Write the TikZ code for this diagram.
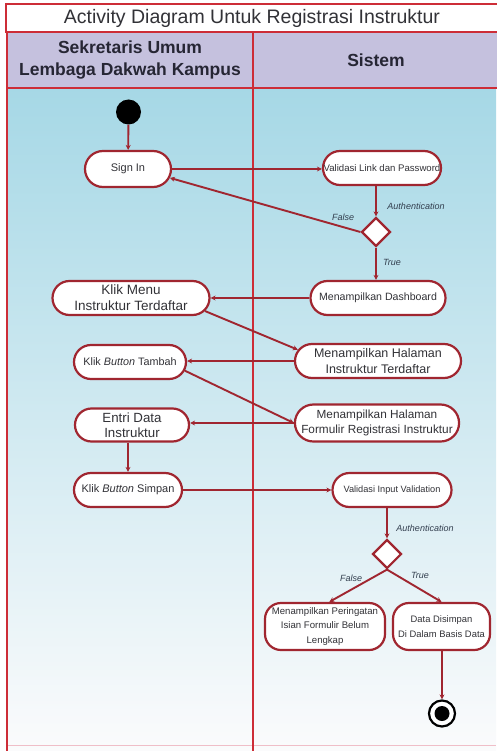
\documentclass[tikz,border=0pt]{standalone}
\usepackage{fontspec}
\setmainfont{Liberation Sans}
\usetikzlibrary{shapes.geometric,shapes.misc,arrows.meta}

\definecolor{lane}{RGB}{205,45,55}
\definecolor{flow}{RGB}{160,38,48}
\definecolor{headfill}{RGB}{197,193,222}
\definecolor{skytop}{RGB}{166,216,230}
\definecolor{skymid}{RGB}{196,228,237}
\definecolor{skybot}{RGB}{251,251,252}
\definecolor{ink}{RGB}{50,50,55}
\definecolor{headink}{RGB}{38,38,52}
\definecolor{guardink}{RGB}{50,62,78}
\definecolor{edgepink}{RGB}{240,190,200}

\tikzset{
  sz/.style 2 args={font=\fontsize{#1}{#2}\selectfont},
  act/.style 2 args={rounded rectangle, draw=flow, line width=2.2pt, fill=white,
    text=ink, align=center, inner sep=1pt, minimum width=#1, minimum height=#2},
  tallact/.style 2 args={rectangle, rounded corners=16pt, draw=flow, line width=2.2pt, fill=white,
    text=ink, align=center, inner sep=1pt, minimum width=#1, minimum height=#2},
  decision/.style={diamond, aspect=1, draw=flow, line width=2.2pt, fill=white,
    minimum size=29pt, inner sep=0pt},
  flowarrow/.style={draw=flow, line width=1.9pt, -{Stealth[length=5pt,width=5pt]}},
  guard/.style={text=guardink, font=\fontsize{9}{11}\selectfont\itshape, inner sep=0pt},
  laneline/.style={draw=lane, line width=1.7pt},
  headcell/.style={draw=lane, line width=1.6pt, fill=headfill, text=headink,
    align=center, inner sep=0pt, font=\fontsize{17.5}{22}\selectfont\bfseries},
}

\begin{document}
\begin{tikzpicture}[x=1pt,y=-1pt]
\useasboundingbox (0,0) rectangle (496,751);

% swimlane background and borders
\shade[top color=skytop, middle color=skymid, bottom color=skybot] (7,88) rectangle (496,751);
\draw[edgepink, line width=0.8pt] (7,745) -- (496,745);
\draw[laneline] (7,88) -- (7,751);
\draw[laneline] (253,88) -- (253,751);

% title bar and lane headers
\node (title) [draw=lane, line width=1.4pt, fill=white, minimum width=492pt, minimum height=28pt,
  inner sep=0pt, text=ink, font=\fontsize{19.5}{22}\selectfont] at (252,18)
  {Activity Diagram Untuk Registrasi Instruktur};
\node (actor) [headcell, minimum width=246pt, minimum height=56pt] at (130,60)
  {Sekretaris Umum\\Lembaga Dakwah Kampus};
\node (system) [headcell, minimum width=246pt, minimum height=56pt] at (376,60) {Sistem};

% start and end
\node (start) [circle, fill=black, minimum size=25pt, inner sep=0pt] at (128.5,112) {};
\node (end) [circle, draw=black, line width=2.2pt, fill=white, minimum size=26pt, inner sep=0pt] at (442,713.5) {};
\node (endcore) [circle, fill=black, minimum size=15pt, inner sep=0pt] at (end.center) {};

% actions: Sekretaris Umum
\node (signin)  [act={88pt}{36pt}, sz={11}{13}] at (128,169) {Sign In};
\node (kmenu)   [act={159pt}{34pt}, sz={13.5}{16}] at (131,298) {Klik Menu\\Instruktur Terdaftar};
\node (ktambah) [act={114pt}{34pt}, sz={10.8}{13}] at (130,362) {Klik \textit{Button} Tambah};
\node (entri)   [act={116pt}{33pt}, sz={13.3}{15.5}] at (132,425) {Entri Data\\Instruktur};
\node (simpan)  [act={110pt}{34pt}, sz={11}{13}] at (128,490) {Klik \textit{Button} Simpan};

% actions: Sistem
\node (vlp)    [act={120pt}{34pt}, sz={9.6}{12}] at (382,168) {Validasi Link dan Password};
\node (d1)     [decision] at (376,232) {};
\node (dash)   [act={137pt}{34pt}, sz={10.6}{13}] at (378,298) {Menampilkan Dashboard};
\node (hins)   [act={168pt}{34pt}, sz={12.5}{16}] at (378,361) {Menampilkan Halaman\\Instruktur Terdaftar};
\node (form)   [act={162pt}{37pt}, sz={11.8}{15}] at (377,423) {Menampilkan Halaman\\Formulir Registrasi Instruktur};
\node (vinput) [act={121pt}{34pt}, sz={9.2}{11}] at (392,490) {Validasi Input Validation};
\node (d2)     [decision] at (387,554) {};
\node (warn)   [tallact={120pt}{47pt}, sz={9.6}{14.5}] at (325,626.5) {Menampilkan Peringatan\\Isian Formulir Belum\\Lengkap};
\node (saved)  [tallact={97pt}{47pt}, sz={9.4}{15}] at (441.5,626.5) {Data Disimpan\\Di Dalam Basis Data};

% control flow
\draw[flowarrow] (start) -- (signin);
\draw[flowarrow] (signin.east) -- (signin.east -| vlp.west);
\draw[flowarrow] (vlp.south -| d1) -- (d1.north);
\draw[flowarrow] (d1.west) -- (signin.-12);
\draw[flowarrow] (d1.south) -- (dash.north -| d1);
\draw[flowarrow] (dash.west) -- (dash.west -| kmenu.east);
\draw[flowarrow] (kmenu.-10) -- (hins.172);
\draw[flowarrow] (hins.west) -- (hins.west -| ktambah.east);
\draw[flowarrow] (ktambah.-9) -- (form.west);
\draw[flowarrow] (form.west) -- (form.west -| entri.east);
\draw[flowarrow] (entri.south -| simpan) -- (simpan.north);
\draw[flowarrow] (simpan.east) -- (simpan.east -| vinput.west);
\draw[flowarrow] (vinput.south -| d2) -- (d2.north);
\draw[flowarrow] (d2.south) -- (warn.80);
\draw[flowarrow] (d2.south) -- (saved.north);
\draw[flowarrow] (saved.south -| end) -- (end.north);

% guard labels
\node (g1) [guard] at (416,206) {Authentication};
\node (g2) [guard] at (343,217) {False};
\node (g3) [guard] at (392,262) {True};
\node (g4) [guard] at (425,528) {Authentication};
\node (g5) [guard] at (351,578) {False};
\node (g6) [guard] at (420,575) {True};
\end{tikzpicture}
\end{document}
